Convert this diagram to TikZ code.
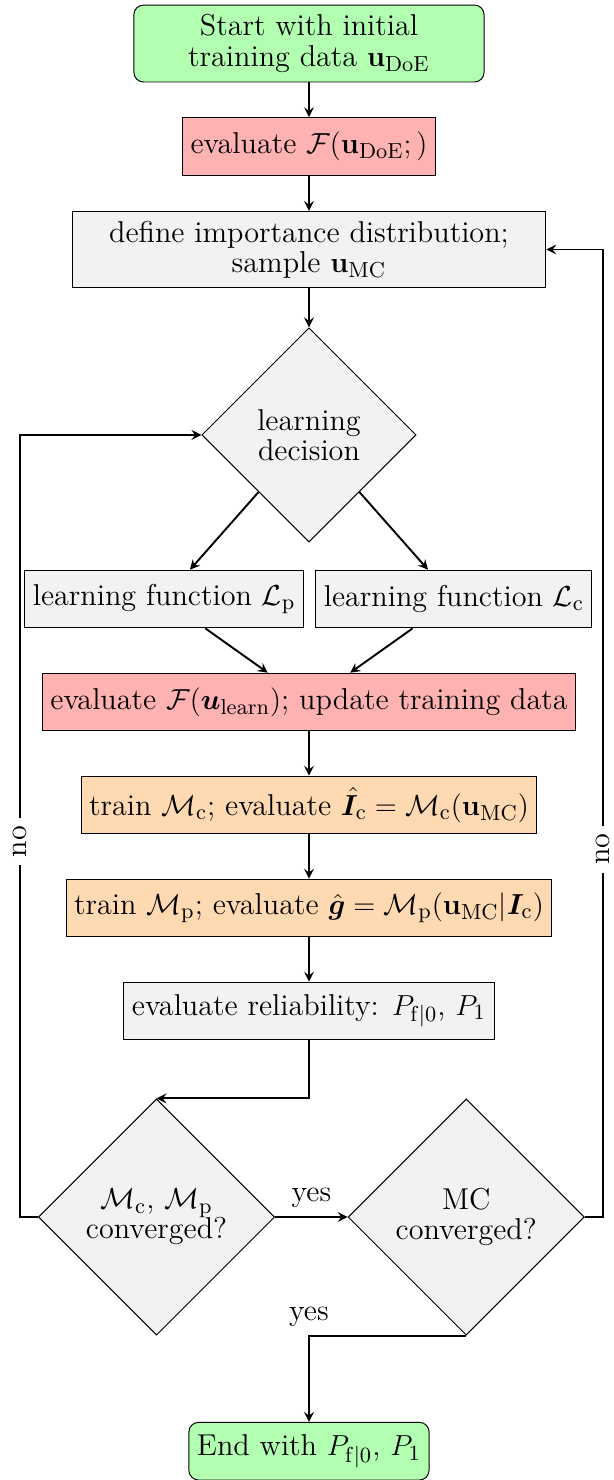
\documentclass[tikz,border=0pt]{standalone}
\usepackage{amsmath}
\usepackage{amssymb}
\usepackage{bm}
\usetikzlibrary{positioning,shapes.geometric}

\tikzset{
  startstop/.style={rectangle, rounded corners, draw, fill=green!30, minimum height=0.84cm, align=center},
  expensive/.style={rectangle, draw, fill=red!30, minimum height=0.84cm, align=center},
  surrogate/.style={rectangle, draw, fill=orange!30, minimum height=0.84cm, align=center},
  process/.style={rectangle, draw, fill=gray!10, minimum height=0.84cm, align=center},
  decision/.style={diamond, aspect=1, draw, fill=gray!10, align=center, inner sep=0pt,
    minimum width=3.44cm, minimum height=3.44cm},
}

\begin{document}
\begin{tikzpicture}[->,>=stealth,node distance=1.5cm,on grid,
      font=\fontsize{12.5pt}{12.5pt}\selectfont]
  \useasboundingbox (-4.50,0.634) rectangle (4.43,-20.92);
  \node[startstop,minimum width=5.1cm,minimum height=1.12cm] (start) {Start with initial\\training data $\mathbf{u}_{\mathrm{DoE}}$};
  \node[expensive] (evaldoe) [below=of start] {evaluate $\mathcal{F}(\mathbf{u}_{\mathrm{DoE}};)$};
  \node[process,minimum width=6.9cm,minimum height=1.11cm] (define) [below=of evaldoe] {define importance distribution;\\sample $\mathbf{u}_{\mathrm{MC}}$};
  \node[decision,minimum width=3.12cm,minimum height=3.12cm] (learndec) [below=2.7cm of define] {learning\\decision};
  \node[process] (lp) [below left=2.39cm and 2.11cm of learndec] {learning function $\mathcal{L}_{\mathrm{p}}$};
  \node[process] (lc) [below right=2.39cm and 2.11cm of learndec] {learning function $\mathcal{L}_{\mathrm{c}}$};
  \node[expensive] (learn) [below=3.89cm of learndec] {evaluate $\mathcal{F}(\bm{u}_{\mathrm{learn}})$; update training data};
  \node[surrogate] (trainc) [below=of learn] {train $\mathcal{M}_{\mathrm{c}}$; evaluate $\hat{\bm{I}}_{\mathrm{c}}=\mathcal{M}_{\mathrm{c}}(\mathbf{u}_{\mathrm{MC}})$};
  \node[surrogate] (trainp) [below=of trainc] {train $\mathcal{M}_{\mathrm{p}}$; evaluate $\hat{\bm{g}}=\mathcal{M}_{\mathrm{p}}(\mathbf{u}_{\mathrm{MC}}|\bm{I}_{\mathrm{c}})$};
  \node[process] (rel) [below=of trainp] {evaluate reliability: $P_{\mathrm{f}|0}$, $P_1$};
  \node[decision] (conv) [below left=3cm and 2.22cm of rel] {$\mathcal{M}_{\mathrm{c}}$, $\mathcal{M}_{\mathrm{p}}$\\converged?};
  \node[decision] (mcconv) [right=4.51cm of conv] {MC\\converged?};
  \node[startstop] (end) [below right=3.41cm and 2.22cm of conv] {End with $P_{\mathrm{f}|0}$, $P_1$};

  \path[thick]
    (start) edge (evaldoe)
    (evaldoe) edge (define)
    (define) edge (learndec)
    (learndec) edge (lp)
    (learndec) edge (lc)
    (lp) edge (learn)
    (lc) edge (learn)
    (learn) edge (trainc)
    (trainc) edge (trainp)
    (trainp) edge (rel);
  \draw[thick] (rel) |- (conv.north);
  \draw[thick] (conv) -- node[above] {yes} (mcconv);
  \draw[thick] (mcconv.south) -| node[pos=.5,above] {yes} (end.north);
  \draw[thick] (conv.west) -- ++(-0.26,0) |- node[pos=.24,sloped,fill=white] {no} (learndec.west);
  \draw[thick] (mcconv.east) -- ++(0.26,0) |- node[pos=.19,sloped,fill=white] {no} (define.east);
\end{tikzpicture}
\end{document}
